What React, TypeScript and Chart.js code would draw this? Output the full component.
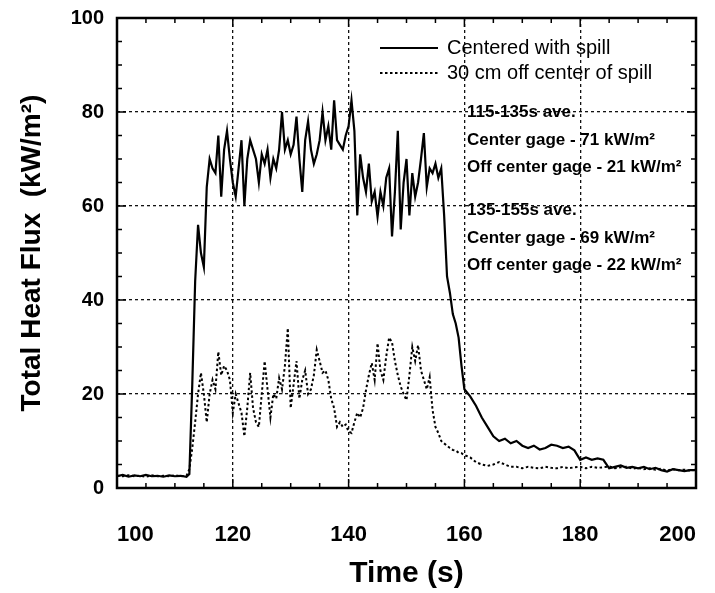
import React, { useEffect, useRef } from "react";
import { Chart, registerables } from "chart.js";

Chart.register(...registerables);

// Time (s)
const timeSec = [
  100, 101, 102, 103, 104, 105, 106, 107, 108, 109, 110, 111, 112,
  112.5, 113, 113.5, 114, 114.5,
  115, 115.5, 116, 116.5, 117, 117.5, 118, 118.5, 119, 119.5,
  120, 120.5, 121, 121.5, 122, 122.5, 123, 123.5, 124, 124.5,
  125, 125.5, 126, 126.5, 127, 127.5, 128, 128.5, 129, 129.5,
  130, 130.5, 131, 131.5, 132, 132.5, 133, 133.5, 134, 134.5,
  135, 135.5, 136, 136.5, 137, 137.5, 138, 138.5, 139, 139.5,
  140, 140.5, 141, 141.5, 142, 142.5, 143, 143.5, 144, 144.5,
  145, 145.5, 146, 146.5, 147, 147.5, 148, 148.5, 149, 149.5,
  150, 150.5, 151, 151.5, 152, 152.5, 153, 153.5, 154, 154.5,
  155, 155.5, 156, 156.5, 157, 157.5, 158, 158.5, 159, 159.5,
  160,
  161, 162, 163, 164, 165, 166, 167, 168, 169, 170,
  171, 172, 173, 174, 175, 176, 177, 178, 179, 180,
  181, 182, 183, 184, 185, 186, 187, 188, 189, 190,
  191, 192, 193, 194, 195, 196, 197, 198, 199, 200,
];

// Centered with spill (kW/m²)
const centeredFlux = [
  2.5, 2.8, 2.4, 2.7, 2.5, 2.8, 2.5, 2.6, 2.4, 2.7, 2.5, 2.6, 2.4,
  3, 22, 44, 56, 50,
  47, 64, 70, 68, 67, 75, 62, 72, 76, 70,
  65, 62, 68, 74, 60, 70, 74, 72, 70, 65,
  71, 69, 72, 66, 70, 68, 72, 80, 72, 74,
  71, 73, 79, 70, 63, 74, 78, 72, 69, 71,
  74, 80, 74, 77, 72, 82.5, 74, 73, 72, 75,
  77, 82.5, 76, 58, 71, 66, 63, 69, 61, 63,
  57.7, 63, 60, 66, 68, 53.5, 63, 76, 55, 65,
  70, 58, 67, 62, 65, 70, 75.5, 64, 68, 67,
  69, 66, 68, 58, 45, 41.5, 37, 35, 32, 26,
  21,
  19.5, 17.5, 15, 13, 11, 10, 10.5, 9.5, 10, 9,
  8.5, 9, 8.2, 8.5, 9.2, 9, 8.5, 8.8, 8, 6,
  6.5, 6, 6.3, 6, 4.2, 4.5, 4.8, 4.3, 4.5, 4.2,
  4.5, 4, 4.3, 3.8, 3.5, 4, 3.8, 3.6, 3.8, 3.8,
];

// 30 cm off center of spill (kW/m²)
const offCenterFlux = [
  2.6, 2.5, 2.7, 2.5, 2.6, 2.4, 2.7, 2.5, 2.6, 2.5, 2.7, 2.5, 2.6,
  4, 8.5, 14, 20, 24.5,
  20, 14, 20, 23, 21, 29, 24, 26, 25, 23,
  16, 20, 18, 16, 11, 17, 24.5, 17, 14, 13,
  20, 27, 21, 15, 20, 19, 23.4, 21, 26, 34,
  17, 22, 27, 19, 23, 25, 20, 21, 24, 29.4,
  27, 24.5, 25, 23, 19, 17, 13, 14, 13, 13.5,
  12, 11.7, 14, 16, 15, 17, 20.8, 24, 26.6, 23,
  30.8, 25, 23, 28, 32, 31, 27, 24, 21.6, 20,
  18.7, 24, 30, 27, 30.4, 25, 23, 21, 23.6, 16.6,
  13, 11.7, 10, 9.5, 9, 8.5, 8.1, 8, 7.5, 7.4,
  7,
  6.5, 5.5, 5, 4.7, 5, 5.5, 5, 4.5, 4.5, 4.2,
  4.5, 4.3, 4.2, 4.5, 4.3, 4.2, 4.5, 4.2, 4.4, 4.5,
  4.2, 4.5, 4.3, 4.4, 4.6, 4.2, 4.4, 4.5, 4.1, 4.3,
  4.0, 4.2, 3.9, 4.1, 3.7, 4.0, 3.8, 3.9, 3.7, 3.9,
];

const xTickValues = [100, 120, 140, 160, 180, 200];
const yTickValues = [0, 20, 40, 60, 80, 100];
const seriesLabels = ["Centered with spill", "30 cm off center of spill"];
const noteLines = [
  "115-135s ave.",
  "Center gage - 71 kW/m²",
  "Off center gage - 21 kW/m²",
  "135-155s ave.",
  "Center gage - 69 kW/m²",
  "Off center gage - 22 kW/m²",
];
const xTitle = "Time (s)";
const yTitle = "Total Heat Flux  (kW/m²)";

const FONT = "'Liberation Sans', Arial, Helvetica, sans-serif";

const zeroPad = (s: any) => {
  s.paddingLeft = 0;
  s.paddingRight = 0;
  s.paddingTop = 0;
  s.paddingBottom = 0;
};

const decorPlugin = {
  id: "decor",
  afterDatasetsDraw(chart: any) {
    const { ctx, chartArea, scales } = chart;
    const { left, right, top, bottom } = chartArea;
    const xs = scales.x;
    const ys = scales.y;
    ctx.save();
    // tick marks (inward)
    ctx.strokeStyle = "#000";
    ctx.lineWidth = 1.5;
    ctx.setLineDash([]);
    for (let v = 105; v < 200; v += 5) {
      const px = xs.getPixelForValue(v);
      const len = v % 20 === 0 ? 9 : 5;
      ctx.beginPath();
      ctx.moveTo(px, bottom);
      ctx.lineTo(px, bottom - len);
      ctx.moveTo(px, top);
      ctx.lineTo(px, top + len);
      ctx.stroke();
    }
    for (let v = 5; v < 100; v += 5) {
      const py = ys.getPixelForValue(v);
      const len = v % 20 === 0 ? 9 : 5;
      ctx.beginPath();
      ctx.moveTo(left, py);
      ctx.lineTo(left + len, py);
      ctx.moveTo(right, py);
      ctx.lineTo(right - len, py);
      ctx.stroke();
    }
    // frame
    ctx.lineWidth = 2.5;
    ctx.strokeRect(left, top, right - left, bottom - top);

    // legend
    const lx0 = left + 263;
    const lx1 = left + 321;
    const ly0 = top + 30;
    const ly1 = top + 55;
    ctx.lineWidth = 2.2;
    ctx.beginPath();
    ctx.moveTo(lx0, ly0);
    ctx.lineTo(lx1, ly0);
    ctx.stroke();
    ctx.lineWidth = 2;
    ctx.setLineDash([2.5, 2.5]);
    ctx.beginPath();
    ctx.moveTo(lx0, ly1);
    ctx.lineTo(lx1, ly1);
    ctx.stroke();
    ctx.setLineDash([]);
    ctx.fillStyle = "#000";
    ctx.font = `20px ${FONT}`;
    ctx.textAlign = "left";
    ctx.textBaseline = "middle";
    ctx.fillText(seriesLabels[0], left + 330, ly0);
    ctx.fillText(seriesLabels[1], left + 330, ly1);

    // notes
    ctx.font = `bold 17px ${FONT}`;
    const nx = left + 350;
    const ny = [112, 140, 167, 210, 238, 265];
    noteLines.forEach((t, i) => ctx.fillText(t, nx, ny[i]));
    ctx.restore();
  },
};

export default function App() {
  const ref = useRef<HTMLCanvasElement | null>(null);
  useEffect(() => {
    if (!ref.current) return;
    const chart = new Chart(ref.current, {
      type: "line",
      data: {
        datasets: [
          {
            label: seriesLabels[0],
            data: timeSec.map((t, i) => ({ x: t, y: centeredFlux[i] })),
            borderColor: "#000",
            borderWidth: 2.2,
            pointRadius: 0,
            tension: 0,
          },
          {
            label: seriesLabels[1],
            data: timeSec.map((t, i) => ({ x: t, y: offCenterFlux[i] })),
            borderColor: "#000",
            borderWidth: 2,
            borderDash: [2.5, 2.5],
            pointRadius: 0,
            tension: 0,
          },
        ],
      },
      options: {
        responsive: false,
        animation: false,
        events: [],
        layout: { padding: { top: 18, right: 19, left: 0, bottom: 0 } },
        plugins: { legend: { display: false }, tooltip: { enabled: false } },
        scales: {
          x: {
            type: "linear",
            min: 100,
            max: 200,
            afterBuildTicks: (s: any) => {
              s.ticks = xTickValues.map((v) => ({ value: v }));
            },
            afterFit: (s: any) => {
              s.height = 105;
              zeroPad(s);
            },
            grid: { color: "#111", lineWidth: 1.3, drawTicks: false },
            border: { display: false, dash: [3, 3] },
            ticks: {
              color: "#000",
              padding: 34,
              align: "inner",
              maxRotation: 0,
              font: { family: FONT, size: 22, weight: "bold" },
            },
            title: {
              display: true,
              text: xTitle,
              color: "#000",
              font: { family: FONT, size: 30, weight: "bold" },
              padding: { top: 0, bottom: 1 },
            },
          },
          y: {
            type: "linear",
            min: 0,
            max: 100,
            afterBuildTicks: (s: any) => {
              s.ticks = yTickValues.map((v) => ({ value: v }));
            },
            afterFit: (s: any) => {
              s.width = 117;
              zeroPad(s);
            },
            grid: { color: "#111", lineWidth: 1.3, drawTicks: false },
            border: { display: false, dash: [3, 3] },
            ticks: {
              color: "#000",
              padding: 13,
              font: { family: FONT, size: 20, weight: "bold" },
            },
            title: {
              display: true,
              text: yTitle,
              color: "#000",
              font: { family: FONT, size: 28, weight: "bold" },
              padding: { top: 15, bottom: 0 },
            },
          },
        },
      },
      plugins: [decorPlugin],
    } as any);
    return () => chart.destroy();
  }, []);
  return (
    <div style={{ position: "absolute", left: 0, top: 0, width: 715, height: 593, background: "#fff" }}>
      <canvas ref={ref} width={715} height={593} style={{ display: "block" }} />
    </div>
  );
}
